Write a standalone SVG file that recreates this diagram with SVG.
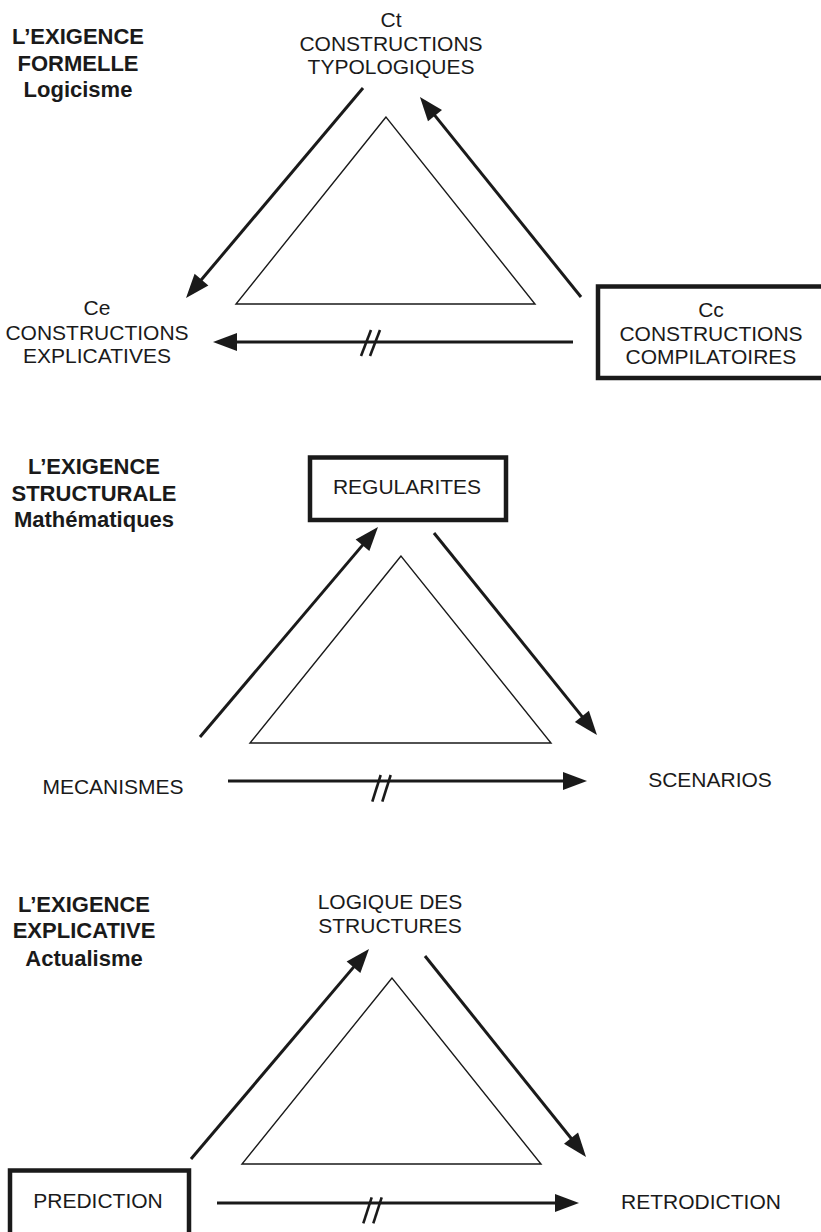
<svg xmlns="http://www.w3.org/2000/svg" width="821" height="1232" viewBox="0 0 821 1232">
<defs>
<style>
.t{font-family:"Liberation Sans",Arial,sans-serif;font-size:21px;fill:#1a1a1a;text-anchor:middle}
.h{font-family:"Liberation Sans",Arial,sans-serif;font-size:22px;font-weight:bold;fill:#1a1a1a;text-anchor:middle}
.box{fill:none;stroke:#1a1a1a;stroke-width:4.5}
.tri{fill:none;stroke:#1a1a1a;stroke-width:1.4;stroke-linejoin:miter}
.arr{fill:none;stroke:#1a1a1a;stroke-width:3;marker-end:url(#ah)}
.sl{fill:none;stroke:#1a1a1a;stroke-width:2.6}
</style>
<marker id="ah" markerUnits="userSpaceOnUse" markerWidth="26" markerHeight="20" refX="11" refY="9" orient="auto" overflow="visible">
<path d="M0,0 L24,9 L0,18 z" fill="#1a1a1a"/>
</marker>
</defs>
<rect width="821" height="1232" fill="#ffffff"/>

<!-- Panel 1 -->
<g id="title1">
<text class="h" x="78" y="44">L’EXIGENCE</text>
<text class="h" x="78" y="71">FORMELLE</text>
<text class="h" x="78" y="97">Logicisme</text>
</g>
<g id="ct">
<text class="t" x="391" y="27">Ct</text>
<text class="t" x="391" y="51">CONSTRUCTIONS</text>
<text class="t" x="391" y="74">TYPOLOGIQUES</text>
</g>
<g id="ce">
<text class="t" x="97" y="315">Ce</text>
<text class="t" x="97" y="340">CONSTRUCTIONS</text>
<text class="t" x="97" y="363">EXPLICATIVES</text>
</g>
<g id="cc">
<rect class="box" x="598" y="286.5" width="240" height="91.5"/>
<text class="t" x="711" y="317">Cc</text>
<text class="t" x="711" y="341">CONSTRUCTIONS</text>
<text class="t" x="711" y="364">COMPILATOIRES</text>
</g>
<g id="tri1">
<polygon class="tri" points="386,117 236,304 535,304"/>
</g>

<!-- Panel 2 -->
<g id="title2">
<text class="h" x="94" y="474">L’EXIGENCE</text>
<text class="h" x="94" y="501">STRUCTURALE</text>
<text class="h" x="94" y="527">Mathématiques</text>
</g>
<g id="regularites">
<rect class="box" x="310" y="457.5" width="196" height="62.5"/>
<text class="t" x="407" y="494">REGULARITES</text>
</g>
<g id="mecanismes">
<text class="t" x="113" y="794">MECANISMES</text>
</g>
<g id="scenarios">
<text class="t" x="710" y="787">SCENARIOS</text>
</g>
<g id="tri2">
<polygon class="tri" points="401,556 250,743 551,743"/>
</g>

<!-- Panel 3 -->
<g id="title3">
<text class="h" x="84" y="912">L’EXIGENCE</text>
<text class="h" x="84" y="938">EXPLICATIVE</text>
<text class="h" x="84" y="966">Actualisme</text>
</g>
<g id="logique">
<text class="t" x="390" y="909">LOGIQUE DES</text>
<text class="t" x="390" y="933">STRUCTURES</text>
</g>
<g id="prediction">
<rect class="box" x="10" y="1170.5" width="179" height="75"/>
<text class="t" x="98" y="1208">PREDICTION</text>
</g>
<g id="retrodiction">
<text class="t" x="701" y="1209">RETRODICTION</text>
</g>
<g id="tri3">
<polygon class="tri" points="392,978 242,1164 541,1164"/>
</g>

<!-- Connectors -->
<g id="connectors">
<line class="arr" x1="363" y1="88" x2="194.4" y2="288"/>
<line class="arr" x1="581" y1="297" x2="428.1" y2="107.1"/>
<line class="arr" x1="573" y1="342" x2="226" y2="342"/>
<line class="sl" x1="361" y1="356" x2="371" y2="330"/>
<line class="sl" x1="370" y1="356" x2="380" y2="330"/>

<line class="arr" x1="200" y1="737" x2="369.6" y2="536.9"/>
<line class="arr" x1="434" y1="533" x2="588.8" y2="724.9"/>
<line class="arr" x1="228" y1="781" x2="574" y2="781"/>
<line class="sl" x1="372.3" y1="801.7" x2="380.7" y2="775"/>
<line class="sl" x1="382.3" y1="801.7" x2="390.7" y2="775"/>

<line class="arr" x1="191" y1="1159" x2="360.6" y2="958.9"/>
<line class="arr" x1="425" y1="956" x2="577.9" y2="1146.8"/>
<line class="arr" x1="217" y1="1203" x2="566" y2="1203"/>
<line class="sl" x1="363.3" y1="1223.3" x2="371.7" y2="1197.3"/>
<line class="sl" x1="373.3" y1="1223.3" x2="381.7" y2="1197.3"/>
</g>
</svg>
